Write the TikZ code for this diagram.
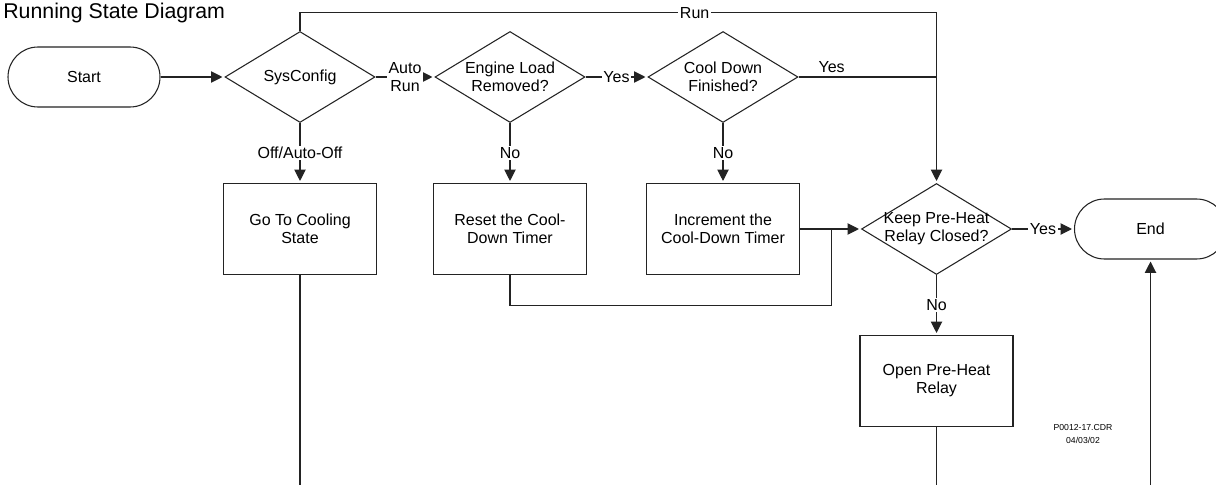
\documentclass[tikz,border=0pt]{standalone}
\usepackage{fontspec}
\setmainfont{Liberation Sans}
\usetikzlibrary{arrows.meta, positioning, shapes.geometric}
\definecolor{inkgray}{RGB}{35,35,35}

\begin{document}
\begin{tikzpicture}[
      x=0.75pt, y=-0.75pt,
      node distance=44.95pt,
      font=\fontsize{12}{13.5}\selectfont,
      term/.style={draw=inkgray, line width=0.8pt, rounded corners=22.5pt,
                   minimum width=114pt, minimum height=45pt},
      task/.style={draw=inkgray, line width=0.8pt, minimum width=114.75pt,
                   minimum height=68.25pt, align=center, inner sep=0pt},
      decision/.style={draw=inkgray, line width=0.8pt, diamond, inner sep=0pt,
                   minimum width=112.5pt, minimum height=68.25pt,
                   label={[align=center]center:#1}},
      wire/.style={draw=inkgray, line width=0.8pt},
      arr/.style={wire, -{Triangle[length=8.5pt, width=8.5pt]}, shorten >=1.5pt},
      tag/.style={fill=white, inner sep=1.2pt, align=center},
      note/.style={font=\fontsize{6.5}{10}\selectfont, align=center, inner sep=0pt}
  ]
    \useasboundingbox (0,0) rectangle (1216,485);
    \coordinate (bottom) at (0,485);

    \node[anchor=base west, inner sep=0pt, font=\fontsize{16}{19}\selectfont]
      (title) at (3,19) {Running State Diagram};

    \node[term] (start) at (84,77) {Start};
    \node[decision={SysConfig}, right=47.95pt of start] (sys) {};
    \node[decision={Engine Load\\Removed?}, right=44.2pt of sys] (eng) {};
    \node[decision={Cool Down\\Finished?}, right=46.45pt of eng] (cool) {};

    \node[task, below=of sys]  (goto)  {Go To Cooling\\State};
    \node[task, below=of eng]  (reset) {Reset the Cool-\\Down Timer};
    \node[task, below=of cool] (incr)  {Increment the\\Cool-Down Timer};
    \node[decision={Keep Pre-Heat\\Relay Closed?}, right=45.7pt of incr] (keep) {};
    \node[term, right=46.45pt of keep] (endn) {End};
    \node[task, below=of keep] (openr) {Open Pre-Heat\\Relay};

    \node[note] (cdr) at (1083,434) {P0012-17.CDR\\04/03/02};

    \draw[arr] (start) -- (sys);
    \draw[arr] (sys) -- node[tag] {Auto\\Run} (eng);
    \draw[arr] (eng) -- node[tag] {Yes} (cool);
    \draw[arr] (sys) -- node[tag] {Off/Auto-Off} (goto);
    \draw[arr] (eng) -- node[tag] {No} (reset);
    \draw[arr] (cool) -- node[tag] {No} (incr);

    % Run path over the top
    \coordinate[above=13.5pt of sys.north] (runleft);
    \draw[arr] (sys.north) -- (runleft) -| node[tag, pos=0.31] {Run} (keep.north);
    \draw[wire] (cool.east) -- node[above, pos=0.24, inner sep=3pt] {Yes} (cool.east -| keep.north);

    % both timers merge into the pre-heat check
    \coordinate[right=23.25pt of incr.east] (merge);
    \draw[wire] (reset.south) -- ++(0,30) -| (merge);
    \draw[arr] (incr.east) -- (merge) -- (keep.west);

    \draw[arr] (keep) -- node[tag] {Yes} (endn);
    \draw[arr] (keep) -- node[tag] {No} (openr);

    % exits off the bottom edge
    \draw[wire] (goto.south) -- (goto.south |- bottom);
    \draw[wire] (openr.south) -- (openr.south |- bottom);
    \draw[arr] (endn.south |- bottom) -- (endn.south);
\end{tikzpicture}
\end{document}
